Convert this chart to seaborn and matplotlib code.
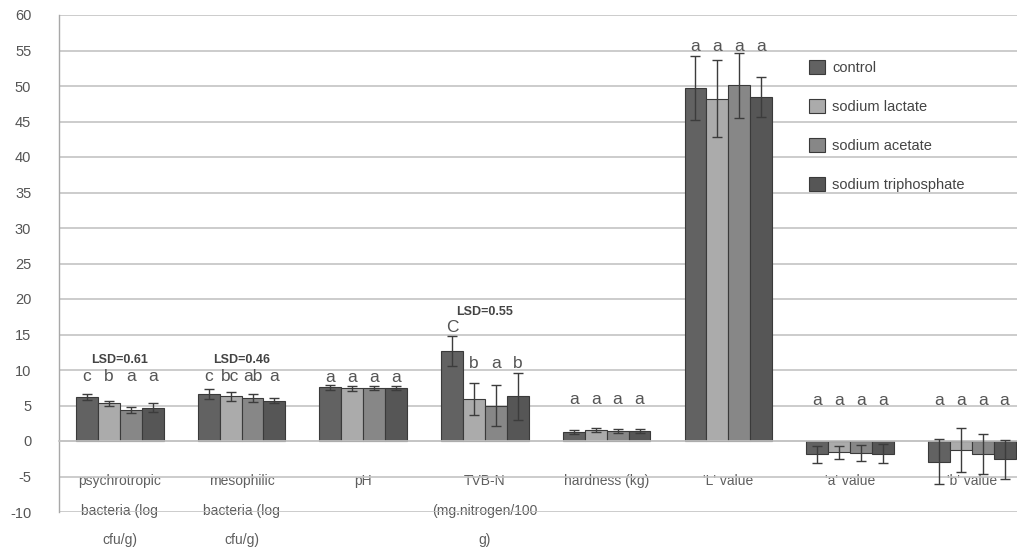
import matplotlib
matplotlib.use("Agg")
import matplotlib.pyplot as plt
import seaborn as sns
import pandas as pd
import numpy as np

# Quality attributes of the treated samples (mean and standard deviation)
attributes = [
    "psychrotropic\nbacteria (log\ncfu/g)",
    "mesophilic\nbacteria (log\ncfu/g)",
    "pH",
    "TVB-N\n(mg.nitrogen/100\ng)",
    "hardness (kg)",
    "'L' value",
    "'a' value",
    "'b' value",
]
treatments = ["control", "sodium lactate", "sodium acetate", "sodium triphosphate"]

control = [6.2, 6.6, 7.6, 12.7, 1.3, 49.7, -1.9, -2.9]
sodium_lactate = [5.3, 6.3, 7.4, 5.9, 1.5, 48.2, -1.6, -1.2]
sodium_acetate = [4.4, 6.0, 7.5, 5.0, 1.4, 50.1, -1.7, -1.8]
sodium_triphosphate = [4.7, 5.7, 7.5, 6.3, 1.4, 48.5, -1.8, -2.6]

control_sd = [0.4, 0.7, 0.35, 2.1, 0.3, 4.5, 1.2, 3.2]
sodium_lactate_sd = [0.3, 0.65, 0.3, 2.3, 0.3, 5.4, 0.95, 3.1]
sodium_acetate_sd = [0.4, 0.55, 0.3, 2.85, 0.3, 4.6, 1.1, 2.8]
sodium_triphosphate_sd = [0.6, 0.3, 0.3, 3.3, 0.3, 2.8, 1.35, 2.8]

# Significance letters per attribute (control, lactate, acetate, triphosphate)
letters = [
    ["c", "b", "a", "a"],
    ["c", "bc", "ab", "a"],
    ["a", "a", "a", "a"],
    ["C", "b", "a", "b"],
    ["a", "a", "a", "a"],
    ["a", "a", "a", "a"],
    ["a", "a", "a", "a"],
    ["a", "a", "a", "a"],
]
lsd_labels = {0: "LSD=0.61", 1: "LSD=0.46", 3: "LSD=0.55"}

means = [control, sodium_lactate, sodium_acetate, sodium_triphosphate]
sds = [control_sd, sodium_lactate_sd, sodium_acetate_sd, sodium_triphosphate_sd]

df = pd.DataFrame(
    [(a, t, means[j][i]) for j, t in enumerate(treatments) for i, a in enumerate(attributes)],
    columns=["attribute", "treatment", "value"],
)

# Annotation placement (data units)
letter_y = [9.1, 9.1, 9.0, 10.9, 5.8, 55.6, 5.7, 5.7]
letter_y_override = {(3, 0): 16.0}
lsd_y = {0: 11.4, 1: 11.4, 3: 18.2}

palette = ["#626262", "#ababab", "#878787", "#565656"]
grid_c = "#c4c4c4"
text_c = "#555555"

sns.set_style("white")
plt.rcParams["font.family"] = ["Liberation Sans", "DejaVu Sans"]
plt.rcParams["axes.unicode_minus"] = False

W, H = 1017, 552
fig = plt.figure(figsize=(W / 100, H / 100), dpi=100)
ax = fig.add_axes([59 / W, 40 / H, 958 / W, 497 / H])

sns.barplot(
    data=df, x="attribute", y="value", hue="treatment",
    order=attributes, hue_order=treatments, palette=palette,
    width=0.72, errorbar=None, edgecolor="#3a3a3a", linewidth=0.8,
    saturation=1, ax=ax, zorder=2,
)

# Error bars and letters over each bar
bar_x = []
for k, (cont, sd) in enumerate(zip(ax.containers, sds)):
    xs = np.array([p.get_x() + p.get_width() / 2 for p in cont])
    bar_x.append(xs)
    ax.errorbar(xs, cont.datavalues, yerr=sd, fmt="none", ecolor="#3c3c3c",
                elinewidth=1.0, capsize=3.6, capthick=1.0, zorder=3)

for i in range(len(attributes)):
    for k in range(len(treatments)):
        y = letter_y_override.get((i, k), letter_y[i])
        ax.text(bar_x[k][i], y, letters[i][k], ha="center", va="center",
                fontsize=12.5, color=text_c, zorder=4)
    if i in lsd_labels:
        ax.text(i, lsd_y[i], lsd_labels[i], ha="center", va="center",
                fontsize=9, fontweight="bold", color="#444444", zorder=4)

ax.set_ylim(-10, 60)
ax.set_xlim(-0.5, -0.5 + 958 / 121.7)
ax.set_yticks(np.arange(-10, 61, 5))
ax.yaxis.grid(True, color=grid_c, linewidth=1.2)
ax.set_axisbelow(True)

for s in ["top", "right"]:
    ax.spines[s].set_visible(False)
ax.spines["left"].set_color("#a8a8a8")
ax.spines["left"].set_linewidth(1.0)
ax.spines["bottom"].set_position(("data", 0))
ax.spines["bottom"].set_color(grid_c)
ax.spines["bottom"].set_linewidth(1.2)

ax.tick_params(axis="y", length=7, color=grid_c, labelsize=10.5,
               labelcolor=text_c, pad=13)
ax.set_xticks(range(len(attributes)))
ax.set_xticklabels(attributes)
ax.set_xticks(np.arange(0.5, len(attributes) - 1, 1), minor=True)
ax.tick_params(axis="x", which="major", length=0, labelsize=10,
               labelcolor="#5e5e5e", pad=24)
ax.tick_params(axis="x", which="minor", length=7, color="#b8b8b8", width=1)
for lab in ax.get_xticklabels():
    lab.set_linespacing(2.4)
    lab.set_verticalalignment("top")

ax.set_xlabel("")
ax.set_ylabel("")

handles, labels = ax.get_legend_handles_labels()
ax.legend(handles, labels, loc="upper left", bbox_to_anchor=(0.783, 0.909),
          frameon=False, fontsize=10.5, labelspacing=1.65, handlelength=1.1,
          handleheight=1.1, handletextpad=0.5, borderaxespad=0, borderpad=0,
          labelcolor="#444444")

fig.savefig("out.png", dpi=100, facecolor="white")
